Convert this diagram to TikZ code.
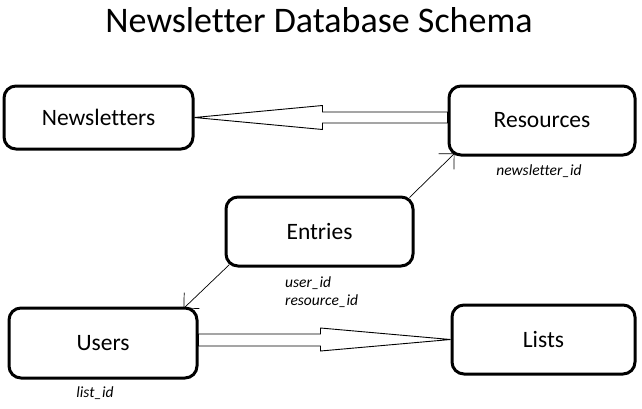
\documentclass[tikz,border=0pt]{standalone}
\usepackage{fontspec}
\setmainfont{Carlito}[Ligatures={NoCommon}]
\usetikzlibrary{calc,arrows.meta}
\tikzset{
  entity/.style={draw, line width=3pt, rounded corners=12pt, inner sep=0pt,
    font=\fontsize{23.5}{28}\selectfont},
  fk/.style={font=\fontsize{15.5}{19}\selectfont\itshape, inner sep=0pt},
  block/.style={draw, line width=0.9pt, fill=white, line join=miter},
  ref/.style={draw, line width=0.7pt, -{Straight Barb[length=11pt,width=22pt,line width=0.7pt]}}
}
\begin{document}
\begin{tikzpicture}[x=1pt,y=-1pt]
\useasboundingbox (0,0) rectangle (642,408);
\node[font=\fontsize{36}{40}\selectfont, anchor=base, inner sep=0pt] (title) at (319,32) {Newsletter Database Schema};

\node[entity, minimum width=189pt, minimum height=63pt] (nl) at (98.5,117.5) {Newsletters};
\node[entity, minimum width=186pt, minimum height=69pt] (res) at (542,120.5) {Resources};
\node[entity, minimum width=187pt, minimum height=69pt] (ent) at (319.5,231.5) {Entries};
\node[entity, minimum width=188pt, minimum height=70pt] (usr) at (103,343) {Users};
\node[entity, minimum width=183pt, minimum height=69pt] (lst) at (543.5,339.5) {Lists};

\node[fk] (nid) at (539,171) {newsletter\_id};
\node[fk, anchor=west] (uid) at (285,283) {user\_id};
\node[fk, anchor=west] (rid) at (285,301.5) {resource\_id};
\node[fk] (lid) at (95,393) {list\_id};

% Resources -> Newsletters block arrow
\coordinate (a1) at ($(nl.east)+(128,-5.5)$);
\coordinate (a2) at ($(nl.east)+(128,5.5)$);
\draw[block] (nl.east) -- ($(nl.east)+(128,-12)$) -- (a1) -- (a1 -| res.west)
  -- (a2 -| res.west) -- (a2) -- ($(nl.east)+(128,12)$) -- cycle;

% Users -> Lists block arrow
\coordinate (b1) at ($(lst.west)+(-130,-5.5)$);
\coordinate (b2) at ($(lst.west)+(-130,6.5)$);
\draw[block] (lst.west) -- ($(lst.west)+(-130,-11.5)$) -- (b1) -- (b1 -| usr.east)
  -- (b2 -| usr.east) -- (b2) -- ($(lst.west)+(-130,11.5)$) -- cycle;

% reference arrows
\draw[ref] ($(ent.north east)+(-5,2)$) -- ($(res.south west)+(7,-3)$);
\draw[ref] ($(ent.south west)+(5,-3)$) -- ($(usr.north east)+(-15,2)$);
\end{tikzpicture}
\end{document}
